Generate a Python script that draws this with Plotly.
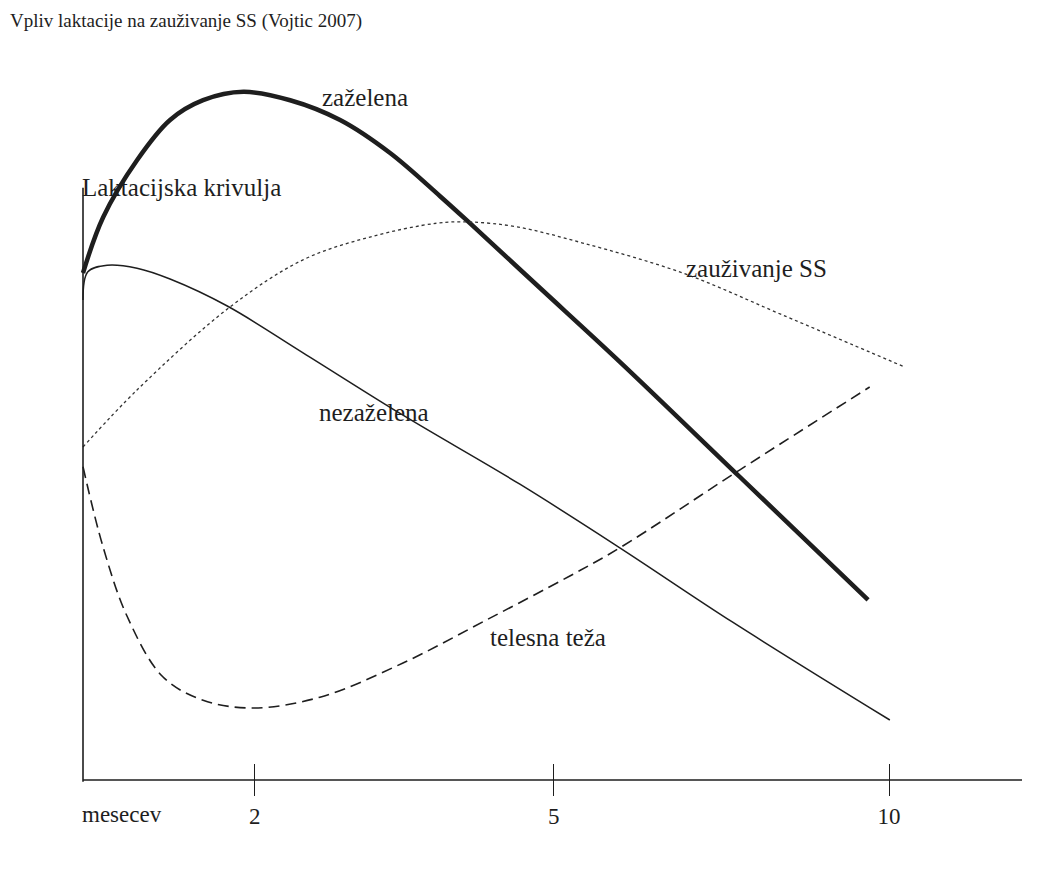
import plotly.graph_objects as go

# page has an 8px body margin, so the figure is 8px smaller than the window
W, H = 1032, 884

# ---- data (time in months along a hand-drawn axis; relative levels) ----
TICK_POS = [2.13, 5.84, 10.0]
TICK_TEXT = ["2", "5", "10"]

t_zazelena = [0, 0.25, 0.67, 1.08, 1.49, 1.99, 2.57, 3.19, 3.81, 4.43, 4.80, 5.67, 6.66, 8.15, 9.74]
v_zazelena = [84.5, 93.8, 103.3, 110.0, 113.3, 114.7, 113.3, 110.0, 104.5, 97.3, 92.8, 82.0, 69.7, 50.5, 30.0]

t_nezazelena = [0, 0.06, 0.30, 0.67, 1.08, 1.79, 2.73, 3.97, 5.42, 6.66, 8.06, 10.01]
v_nezazelena = [80.0, 84.7, 85.8, 85.3, 83.5, 79.0, 71.2, 60.8, 49.3, 38.7, 26.3, 10.0]

t_ss = [0, 0.67, 1.82, 2.73, 3.56, 4.39, 4.80, 5.38, 6.20, 7.44, 8.68, 10.20]
v_ss = [55.5, 65.0, 78.8, 86.7, 90.5, 92.8, 93.0, 92.2, 89.5, 84.5, 77.5, 68.8]

t_teza = [0, 0.25, 0.55, 0.99, 1.49, 2.11, 2.94, 3.97, 5.01, 6.04, 6.66, 8.15, 9.76]
v_teza = [52.2, 38.8, 27.2, 17.2, 13.3, 12.0, 13.8, 19.5, 26.7, 34.0, 38.7, 51.7, 65.5]

X_AXIS_END = 11.65
Y_AXIS_TOP = 98.7

FONT = "Liberation Serif, Times New Roman, serif"
INK = "#1e1e1e"

fig = go.Figure()

fig.add_trace(go.Scatter(x=t_zazelena, y=v_zazelena, mode="lines",
                         line=dict(color=INK, width=4.5, shape="spline", smoothing=1.0),
                         name="zaželena", hoverinfo="skip"))
fig.add_trace(go.Scatter(x=t_nezazelena, y=v_nezazelena, mode="lines",
                         line=dict(color=INK, width=1.5, shape="spline", smoothing=1.0),
                         name="nezaželena", hoverinfo="skip"))
fig.add_trace(go.Scatter(x=t_ss, y=v_ss, mode="lines",
                         line=dict(color="#333333", width=1.3, dash="dot", shape="spline", smoothing=1.0),
                         name="zauživanje SS", hoverinfo="skip"))
fig.add_trace(go.Scatter(x=t_teza, y=v_teza, mode="lines",
                         line=dict(color=INK, width=1.6, dash="11px,6px", shape="spline", smoothing=1.0),
                         name="telesna teža", hoverinfo="skip"))

# axis lines
fig.add_shape(type="line", xref="x", yref="y", x0=0, x1=X_AXIS_END, y0=0, y1=0,
              line=dict(color=INK, width=1.6))
fig.add_shape(type="line", xref="x", yref="y", x0=0, x1=0, y0=-0.3, y1=Y_AXIS_TOP,
              line=dict(color=INK, width=1.6))

labels = [
    ("zaželena", 3.50, 113.8),
    ("nezaželena", 3.61, 61.2),
    ("zauživanje SS", 8.36, 85.3),
    ("telesna teža", 5.77, 23.8),
]
for txt, x, y in labels:
    fig.add_annotation(x=x, y=y, text=txt, showarrow=False, xref="x", yref="y",
                       font=dict(family=FONT, size=25, color=INK))

fig.add_annotation(x=0, y=98.7, text="Laktacijska krivulja", showarrow=False,
                   xref="x", yref="y", xanchor="left", yanchor="middle", xshift=-3,
                   font=dict(family=FONT, size=25, color=INK))
fig.add_annotation(x=0, y=-5.8, text="mesecev", showarrow=False,
                   xref="x", yref="y", xanchor="left", yanchor="middle", xshift=-3,
                   font=dict(family=FONT, size=23, color=INK))
fig.add_annotation(x=0, y=1, text="Vpliv laktacije na zauživanje SS (Vojtic 2007)",
                   showarrow=False, xref="paper", yref="paper", xanchor="left", yanchor="top",
                   font=dict(family=FONT, size=19, color=INK))

fig.update_layout(
    width=W, height=H,
    margin=dict(l=0, r=0, t=0, b=0),
    paper_bgcolor="white", plot_bgcolor="white",
    showlegend=False,
    xaxis=dict(range=[-0.9305, 11.873], domain=[0, 1], anchor="free",
               position=(884 - 755) / 884,
               showline=False, showgrid=False, zeroline=False,
               ticks="outside", ticklen=32, tickwidth=1.4, tickcolor=INK,
               tickvals=TICK_POS, ticktext=TICK_TEXT,
               tickfont=dict(family=FONT, size=23, color=INK)),
    yaxis=dict(range=[-18.67, 128.67], domain=[0, 1], visible=False,
               showgrid=False, zeroline=False),
)

fig.write_html("out.html")
